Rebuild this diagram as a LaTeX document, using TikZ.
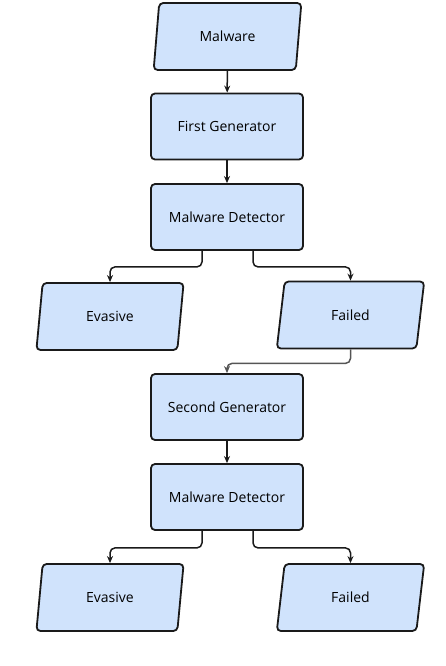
\documentclass[tikz,border=0pt]{standalone}
\usepackage{fontspec}
\newfontfamily\boxfont{Open Sans}
\usetikzlibrary{shapes.geometric,arrows.meta}
\definecolor{boxfill}{HTML}{D0E3FC}
\definecolor{boxline}{HTML}{1A1A1A}
\definecolor{grayline}{HTML}{555555}
\tikzset{
  base/.style={draw=boxline, fill=boxfill, line width=1.8pt, rounded corners=4pt,
    font=\boxfont\fontsize{14}{16}\selectfont, text=black, inner sep=0pt},
  procbox/.style={base, rectangle, minimum width=152pt, minimum height=66pt},
  iobox/.style={base, trapezium, trapezium left angle=78, trapezium right angle=102,
    trapezium stretches=true, minimum width=148pt, minimum height=67pt},
  conn/.style={draw=boxline, line width=1.5pt, rounded corners=5pt,
    -{Stealth[length=7pt,width=6pt]}},
  gconn/.style={conn, draw=grayline},
}
\begin{document}
\begin{tikzpicture}[x=1pt,y=-1pt]
\useasboundingbox (0,0) rectangle (446,666);
\clip (0,0) rectangle (446,666);
\node[iobox] (mal) at (227.5,36.5) {Malware};
\node[procbox] (gen1) at (227,126.5) {First Generator};
\node[procbox] (det1) at (227,217) {Malware Detector};
\node[iobox] (eva1) at (110,316.5) {Evasive};
\node[iobox] (fail1) at (350.5,315) {Failed};
\node[procbox] (gen2) at (227,407) {Second Generator};
\node[procbox] (det2) at (227,497) {Malware Detector};
\node[iobox] (eva2) at (110,597.5) {Evasive};
\node[iobox] (fail2) at (350.5,597.5) {Failed};
\node[anchor=base west, inner sep=0pt, font=\fontsize{28.4}{34}\selectfont] (cap) at (35,688.5) {Method for generating adversarial malware};

\draw[conn] (mal) -- (gen1);
\draw[conn] (gen1) -- (det1);
\draw[conn] ([xshift=-25pt]det1.south) -- ++(0,16) -| (eva1.north);
\draw[conn] ([xshift=26pt]det1.south) -- ++(0,16) -| (fail1.north);
\draw[gconn] (fail1.south) -- ++(0,14) -| (gen2.north);
\draw[conn] (gen2) -- (det2);
\draw[conn] ([xshift=-25pt]det2.south) -- ++(0,17) -| (eva2.north);
\draw[conn] ([xshift=26pt]det2.south) -- ++(0,17) -| (fail2.north);
\end{tikzpicture}
\end{document}
